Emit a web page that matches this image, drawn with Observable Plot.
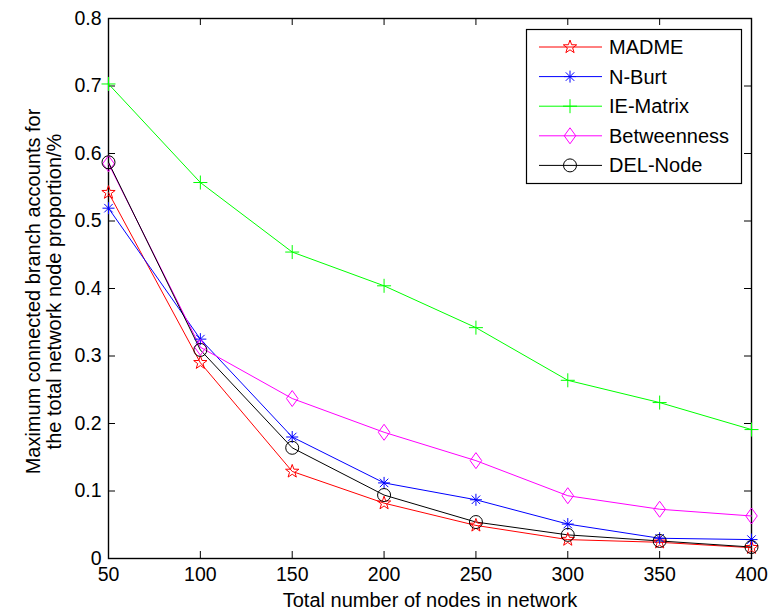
<!DOCTYPE html>
<html><head><meta charset="utf-8">
<script src="https://cdn.jsdelivr.net/npm/d3@7"></script>
<script src="https://cdn.jsdelivr.net/npm/@observablehq/plot@0.6"></script>
<style>
body{margin:0;background:#fff;}
#wrap{position:relative;width:768px;height:612px;overflow:hidden;}
#wrap svg.legend{position:absolute;left:0;top:0;pointer-events:none;}
</style>
</head><body><div id="wrap"></div>
<script>
// ---- data ----
const nodes = [50, 100, 150, 200, 250, 300, 350, 400];
const madme = [0.542, 0.290, 0.129, 0.082, 0.049, 0.028, 0.024, 0.016];
const nBurt = [0.519, 0.325, 0.180, 0.112, 0.087, 0.051, 0.030, 0.028];
const ieMatrix = [0.703, 0.557, 0.454, 0.404, 0.342, 0.264, 0.231, 0.191];
const betweenness = [0.585, 0.313, 0.237, 0.187, 0.145, 0.093, 0.073, 0.063];
const delNode = [0.587, 0.309, 0.164, 0.094, 0.054, 0.035, 0.026, 0.017];
const seriesNames = ["MADME", "N-Burt", "IE-Matrix", "Betweenness", "DEL-Node"];
const seriesColors = ["#ff0000", "#0000ff", "#00ff00", "#ff00ff", "#000000"];
const xTicks = [50, 100, 150, 200, 250, 300, 350, 400];
const yTicks = [0, 0.1, 0.2, 0.3, 0.4, 0.5, 0.6, 0.7, 0.8];
const xLabel = "Total number of nodes in network";
const yLabel = "Maximum connected branch accounts for\nthe total network node proportion/%";

// ---- MATLAB-like marker shapes ----
const rad = s => Math.sqrt(s / Math.PI);
const starSym = {draw(c, s) { const r = rad(s), ri = r * 0.4;
  for (let i = 0; i < 10; i++) { const a = -Math.PI / 2 + i * Math.PI / 5, q = i % 2 ? ri : r;
    const x = q * Math.cos(a), y = q * Math.sin(a); i ? c.lineTo(x, y) : c.moveTo(x, y); }
  c.closePath(); }};
const asteriskSym = {draw(c, s) { const r = rad(s), d = r * Math.SQRT1_2;
  c.moveTo(-r, 0); c.lineTo(r, 0); c.moveTo(0, -r); c.lineTo(0, r);
  c.moveTo(-d, -d); c.lineTo(d, d); c.moveTo(-d, d); c.lineTo(d, -d); }};
const plusSym = {draw(c, s) { const r = rad(s);
  c.moveTo(-r, 0); c.lineTo(r, 0); c.moveTo(0, -r); c.lineTo(0, r); }};
const diamondSym = {draw(c, s) { const r = rad(s), w = r * 0.72;
  c.moveTo(0, -r); c.lineTo(w, 0); c.lineTo(0, r); c.lineTo(-w, 0); c.closePath(); }};
const circleSym = {draw(c, s) { const r = rad(s); c.moveTo(r, 0); c.arc(0, 0, r, 0, 2 * Math.PI); }};
const seriesSymbols = [starSym, asteriskSym, plusSym, diamondSym, circleSym];
const seriesR = [7, 6, 7, 8, 6.5];

const valuesBySeries = [madme, nBurt, ieMatrix, betweenness, delNode];
const table = seriesNames.flatMap((name, i) => nodes.map((n, j) => ({series: name, x: n, y: valuesBySeries[i][j]})));

const W = 768, H = 612, mL = 108, mR = 17, mT = 18, mB = 54;
const innerW = W - mL - mR, innerH = H - mT - mB, tickLen = 7;
const FONT = "'Liberation Sans', Arial, Helvetica, sans-serif";

const marks = [
  Plot.frame({stroke: "#000", strokeWidth: 1.4}),
  Plot.tickX(xTicks, {x: d => d, insetTop: innerH - tickLen, stroke: "#000"}),
  Plot.tickX(xTicks, {x: d => d, insetBottom: innerH - tickLen, stroke: "#000"}),
  Plot.tickY(yTicks, {y: d => d, insetRight: innerW - tickLen, stroke: "#000"}),
  Plot.tickY(yTicks, {y: d => d, insetLeft: innerW - tickLen, stroke: "#000"}),
  Plot.axisX({ticks: xTicks, tickSize: 0, tickPadding: 9, label: null, fontSize: 19.5, tickFormat: d => String(d)}),
  Plot.axisY({ticks: yTicks, tickSize: 0, tickPadding: 7, label: null, fontSize: 19.5, tickFormat: d => d === 0 ? "0" : d.toFixed(1)}),
  Plot.line(table, {x: "x", y: "y", z: "series", stroke: "series", strokeWidth: 1})
];
seriesNames.forEach((name, i) => {
  marks.push(Plot.dot(table.filter(d => d.series === name), {
    x: "x", y: "y", symbol: () => seriesSymbols[i], r: seriesR[i], fill: "none", stroke: seriesColors[i], strokeWidth: 1
  }));
});
marks.push(Plot.text([xLabel], {text: d => d, frameAnchor: "bottom", lineAnchor: "middle", textAnchor: "middle", dy: 42, fontSize: 20, fill: "#000"}));
marks.push(Plot.text([yLabel], {text: d => d, frameAnchor: "left", textAnchor: "middle", lineAnchor: "middle", rotate: -90, dx: -65, dy: 3, fontSize: 20, lineHeight: 1.08, fill: "#000"}));

const chart = Plot.plot({
  width: W, height: H, marginLeft: mL, marginRight: mR, marginTop: mT, marginBottom: mB,
  style: {fontFamily: FONT, fontSize: "19.5px", color: "#000", background: "#fff", overflow: "visible"},
  x: {domain: [50, 400]},
  y: {domain: [0, 0.8]},
  color: {domain: seriesNames, range: seriesColors},
  marks
});
const wrap = document.getElementById("wrap");
wrap.appendChild(chart);

// ---- legend (inside the plot box, top-right) ----
const lg = d3.select(wrap).append("svg").attr("class", "legend").attr("width", W).attr("height", H)
  .style("font-family", FONT);
const bx = 526.5, by = 29.5, bw = 215, bh = 154, row0 = 47, rowGap = 29.6;
lg.append("rect").attr("x", bx).attr("y", by).attr("width", bw).attr("height", bh)
  .attr("fill", "#fff").attr("stroke", "#000").attr("stroke-width", 1.2);
seriesNames.forEach((name, i) => {
  const y = row0 + i * rowGap;
  lg.append("line").attr("x1", 539).attr("x2", 602).attr("y1", y).attr("y2", y)
    .attr("stroke", seriesColors[i]).attr("stroke-width", 1);
  lg.append("path").attr("transform", `translate(570,${y})`)
    .attr("d", d3.symbol(seriesSymbols[i], seriesR[i] * seriesR[i] * Math.PI)())
    .attr("fill", "none").attr("stroke", seriesColors[i]).attr("stroke-width", 1);
  lg.append("text").attr("x", 609).attr("y", y).attr("dy", "0.35em")
    .attr("font-size", 20).attr("fill", "#000").text(name);
});
</script>
</body></html>
